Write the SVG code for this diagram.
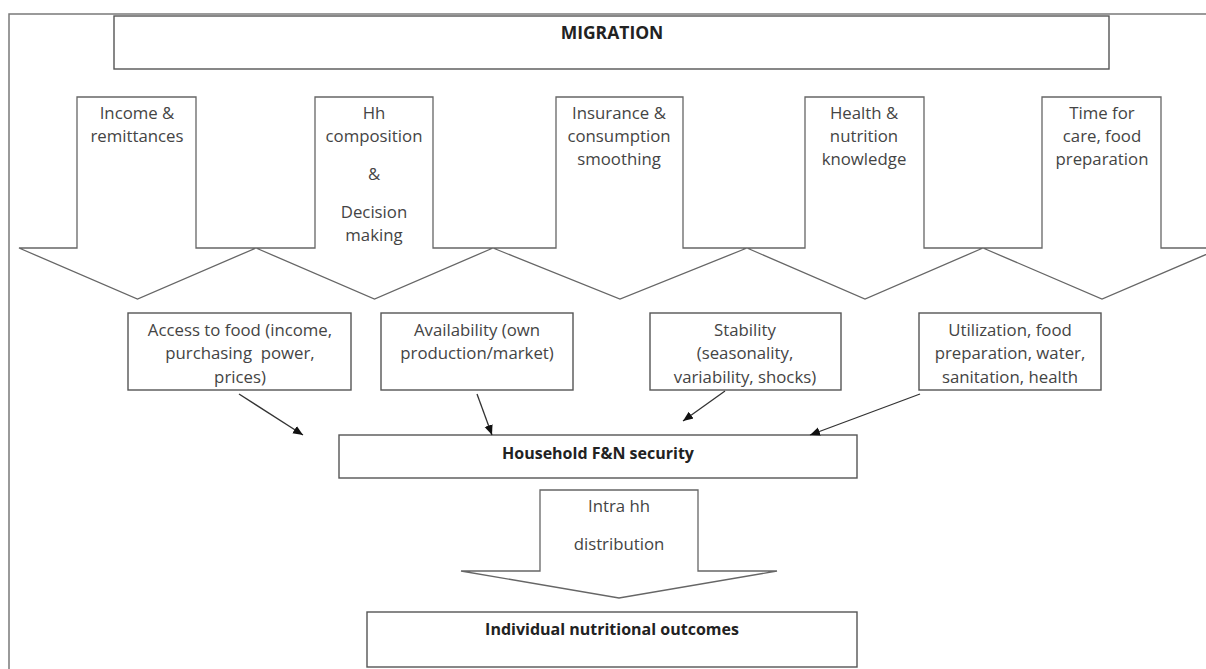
<svg xmlns="http://www.w3.org/2000/svg" width="1206" height="669" viewBox="0 0 1206 669">
  <style>
    .frame { fill: none; stroke: #7a7a7a; stroke-width: 1.5; }
    .box { fill: #ffffff; stroke: #555555; stroke-width: 1.4; }
    .shape { fill: #ffffff; stroke: #666666; stroke-width: 1.3; stroke-linejoin: miter; }
    .lbl { font-family: "Open Sans", "Noto Sans", sans-serif; font-size: 16.8px; fill: #444444; text-anchor: middle; }
    .bold { font-family: "Open Sans", "Noto Sans", sans-serif; font-size: 16px; font-weight: bold; fill: #222222; text-anchor: middle; }
    .conn { stroke: #333333; stroke-width: 1.3; fill: none; marker-end: url(#head); }
  </style>
  <defs>
    <marker id="head" viewBox="0 0 10 10" refX="10" refY="5" markerWidth="10" markerHeight="10" markerUnits="userSpaceOnUse" orient="auto">
      <path d="M0,0.8 L10,5 L0,9.2 Z" fill="#111111"/>
    </marker>
  </defs>

  <rect width="1206" height="669" fill="#ffffff"/>
  <!-- outer page frame -->
  <path class="frame" d="M9,669 V14 H1206"/>

  <g id="migration">
    <rect class="box" x="114" y="16" width="995" height="53"/>
    <text class="bold" x="612" y="39" style="font-size:17.5px">MIGRATION</text>
  </g>

  <!-- pathway block arrows -->
  <g id="income">
    <path class="shape" d="M77,97 H196 V248 H256 L137.5,299 L19,248 H77 Z"/>
    <text class="lbl" x="137" y="119">Income &amp;</text>
    <text class="lbl" x="137" y="142">remittances</text>
  </g>
  <g id="composition">
    <path class="shape" d="M315,97 H433 V248 H493 L374.5,299 L256,248 H315 Z"/>
    <text class="lbl" x="374" y="119">Hh</text>
    <text class="lbl" x="374" y="142">composition</text>
    <text class="lbl" x="374" y="180">&amp;</text>
    <text class="lbl" x="374" y="218">Decision</text>
    <text class="lbl" x="374" y="241">making</text>
  </g>
  <g id="insurance">
    <path class="shape" d="M556,97 H683 V248 H747 L620,299 L493,248 H556 Z"/>
    <text class="lbl" x="619" y="119">Insurance &amp;</text>
    <text class="lbl" x="619" y="142">consumption</text>
    <text class="lbl" x="619" y="165">smoothing</text>
  </g>
  <g id="knowledge">
    <path class="shape" d="M805,97 H924 V248 H983 L865,299 L747,248 H805 Z"/>
    <text class="lbl" x="864" y="119">Health &amp;</text>
    <text class="lbl" x="864" y="142">nutrition</text>
    <text class="lbl" x="864" y="165">knowledge</text>
  </g>
  <g id="care-time">
    <path class="shape" d="M1042,97 H1161 V248 H1221 L1102,299 L983,248 H1042 Z"/>
    <text class="lbl" x="1102" y="119">Time for</text>
    <text class="lbl" x="1102" y="142">care, food</text>
    <text class="lbl" x="1102" y="165">preparation</text>
  </g>

  <!-- food security pillars -->
  <g id="access">
    <rect class="box" x="128" y="313" width="223" height="77"/>
    <text class="lbl" x="240" y="336">Access to food (income,</text>
    <text class="lbl" x="240" y="359" xml:space="preserve">purchasing  power,</text>
    <text class="lbl" x="240" y="383">prices)</text>
  </g>
  <g id="availability">
    <rect class="box" x="381" y="313" width="192" height="77"/>
    <text class="lbl" x="477" y="336">Availability (own</text>
    <text class="lbl" x="477" y="359">production/market)</text>
  </g>
  <g id="stability">
    <rect class="box" x="650" y="313" width="191" height="77"/>
    <text class="lbl" x="745" y="336">Stability</text>
    <text class="lbl" x="745" y="359">(seasonality,</text>
    <text class="lbl" x="745" y="383">variability, shocks)</text>
  </g>
  <g id="utilization">
    <rect class="box" x="919" y="313" width="182" height="77"/>
    <text class="lbl" x="1010" y="336">Utilization, food</text>
    <text class="lbl" x="1010" y="359">preparation, water,</text>
    <text class="lbl" x="1010" y="383">sanitation, health</text>
  </g>

  <g id="household">
    <rect class="box" x="339" y="435" width="518" height="43"/>
    <text class="bold" x="598" y="459">Household F&amp;N security</text>
  </g>

  <g id="intra-hh">
    <path class="shape" d="M540,490 H698 V571 H777 L619,598 L461,571 H540 Z"/>
    <text class="lbl" x="619" y="512">Intra hh</text>
    <text class="lbl" x="619" y="550">distribution</text>
  </g>

  <g id="individual">
    <rect class="box" x="367" y="612" width="490" height="55"/>
    <text class="bold" x="612" y="635">Individual nutritional outcomes</text>
  </g>

  <g id="connectors">
    <line class="conn" x1="239" y1="394" x2="303" y2="435"/>
    <line class="conn" x1="477" y1="394" x2="492" y2="435"/>
    <line class="conn" x1="725" y1="391" x2="683" y2="421"/>
    <line class="conn" x1="920" y1="394" x2="810" y2="435"/>
  </g>
</svg>
